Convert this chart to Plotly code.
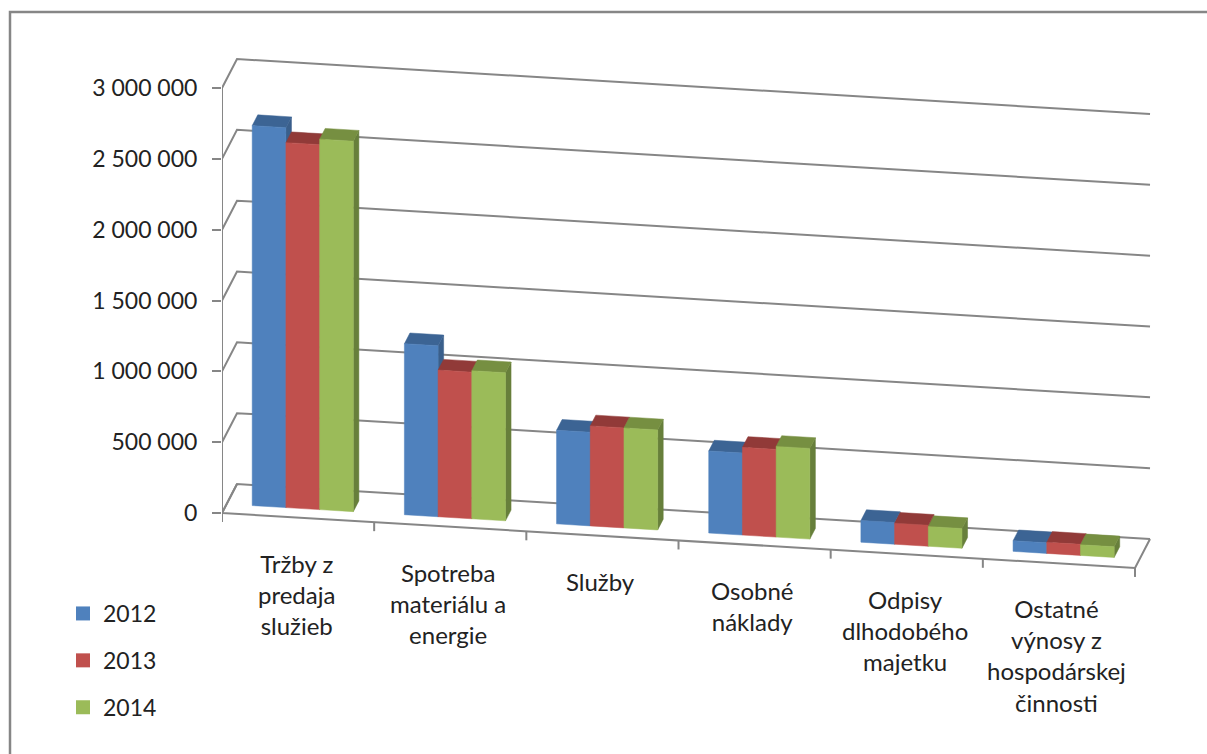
import plotly.graph_objects as go

categories = ["Tržby z<br>predaja<br>služieb", "Spotreba<br>materiálu a<br>energie", "Služby",
              "Osobné<br>náklady", "Odpisy<br>dlhodobého<br>majetku",
              "Ostatné<br>výnosy z<br>hospodárskej<br>činnosti"]
series_names = ["2012", "2013", "2014"]
values_2012 = [2682000, 1207000, 661000, 579000, 153000, 75000]
values_2013 = [2576000, 1035000, 706000, 619000, 148000, 78000]
values_2014 = [2615000, 1045000, 706000, 640000, 139000, 75000]
tick_values = [0, 500000, 1000000, 1500000, 2000000, 2500000, 3000000]
tick_labels = ["0", "500 000", "1 000 000", "1 500 000", "2 000 000", "2 500 000", "3 000 000"]

# page geometry
W, H = 1207, 754
AXIS_PX, BASE_PX = 222, 513
CAT_PX = 152.17
VAL_PX = 425 / 3000000

# oblique projection of the 3-D floor, in axis units
SLOPE = 9.16 / VAL_PX
DEPTH_X = 15 / CAT_PX
DEPTH_Y = 29 / VAL_PX
GAP, BAR = 0.168, 0.2215
D0, D1 = 0.31, 0.68


def proj(x, d, v):
    return x + d * DEPTH_X, v - SLOPE * x + d * DEPTH_Y


def polys(faces):
    xs, ys = [], []
    for face in faces:
        pts = [proj(*p) for p in face] + [proj(*face[0])]
        xs += [p[0] for p in pts] + [None]
        ys += [p[1] for p in pts] + [None]
    return xs, ys


GRID = "#868686"
TEXT = "#222222"
FONT = "Lato"
SIZE = 23
LABEL_SIZE = 24
fig = go.Figure()


def line(pts, width=2):
    p = [proj(*q) for q in pts]
    fig.add_trace(go.Scatter(x=[a[0] for a in p], y=[a[1] for a in p], mode="lines",
                             line=dict(color=GRID, width=width), showlegend=False,
                             hoverinfo="skip", cliponaxis=False))


n = len(categories)
for t in tick_values:
    line([(0, 0, t), (0, 1, t), (n, 1, t)])
line([(0, 0, 0), (0, 0, 3000000)])
line([(0, 1, 0), (0, 0, 0), (n, 0, 0), (n, 1, 0)])
TICK = 9 / VAL_PX
for i in range(n + 1):
    x, y = proj(i, 0, 0)
    fig.add_trace(go.Scatter(x=[x, x], y=[y, y - TICK], mode="lines",
                             line=dict(color=GRID, width=2), showlegend=False,
                             hoverinfo="skip", cliponaxis=False))

palette = [("#4F81BD", "#3C6494", "#3A5F8B"),
           ("#C0504D", "#913A38", "#8E3B39"),
           ("#9BBB59", "#768F41", "#677F3B")]

for s, (name, vals) in enumerate(zip(series_names, [values_2012, values_2013, values_2014])):
    front, top, side = [], [], []
    for i, v in enumerate(vals):
        x0 = i + GAP + s * BAR
        x1 = x0 + BAR
        front.append([(x0, D0, 0), (x1, D0, 0), (x1, D0, v), (x0, D0, v)])
        top.append([(x0, D0, v), (x1, D0, v), (x1, D1, v), (x0, D1, v)])
        side.append([(x1, D0, 0), (x1, D1, 0), (x1, D1, v), (x1, D0, v)])
    for faces, color in ((side, palette[s][2]), (top, palette[s][1]), (front, palette[s][0])):
        xs, ys = polys(faces)
        fig.add_trace(go.Scatter(x=xs, y=ys, mode="lines", fill="toself", fillcolor=color,
                                 line=dict(color=color, width=0.5), name=name,
                                 showlegend=False, legendgroup=name, hoverinfo="skip"))
    fig.add_trace(go.Scatter(x=[None], y=[None], mode="markers", name=name, legendgroup=name,
                             marker=dict(symbol="square", size=14, color=palette[s][0])))

LABEL_DROP = 29 / VAL_PX
for i, c in enumerate(categories):
    x, y = proj(i + 0.5, 0, 0)
    fig.add_annotation(x=x - 2 / CAT_PX, y=y - LABEL_DROP, text=c, showarrow=False, yanchor="top",
                       xanchor="center", align="center",
                       font=dict(family=FONT, size=LABEL_SIZE, color=TEXT))

px_x = lambda p: (p - AXIS_PX) / (W - AXIS_PX)
px_y = lambda p: 1 - p / H

fig.add_shape(type="path", xref="paper", yref="paper",
              path=f"M {px_x(10)} {px_y(H)} L {px_x(10)} {px_y(12)} L {px_x(W)} {px_y(12)}",
              line=dict(color=GRID, width=2.5))

fig.update_layout(
    width=W, height=H, margin=dict(l=AXIS_PX, r=0, t=0, b=0),
    paper_bgcolor="white", plot_bgcolor="white",
    font=dict(family=FONT, size=SIZE, color=TEXT),
    xaxis=dict(range=[0, (W - AXIS_PX) / CAT_PX], visible=False, fixedrange=True),
    yaxis=dict(range=[-(H - BASE_PX) / VAL_PX, BASE_PX / VAL_PX], tickmode="array",
               tickvals=tick_values, ticktext=tick_labels, ticks="outside", ticklen=9,
               tickwidth=2, tickcolor=GRID, showgrid=False, zeroline=False, showline=False,
               ticklabelstandoff=10, tickfont=dict(family=FONT, size=SIZE, color=TEXT), fixedrange=True),
    showlegend=True,
    legend=dict(x=px_x(63), xanchor="left", y=px_y(592), yanchor="top", tracegroupgap=14,
                traceorder="grouped", bgcolor="rgba(0,0,0,0)", font=dict(family=FONT, size=SIZE, color=TEXT)),
)

fig.write_html("out.html", config={"displayModeBar": False},
               post_script="document.body.style.margin='0';")
